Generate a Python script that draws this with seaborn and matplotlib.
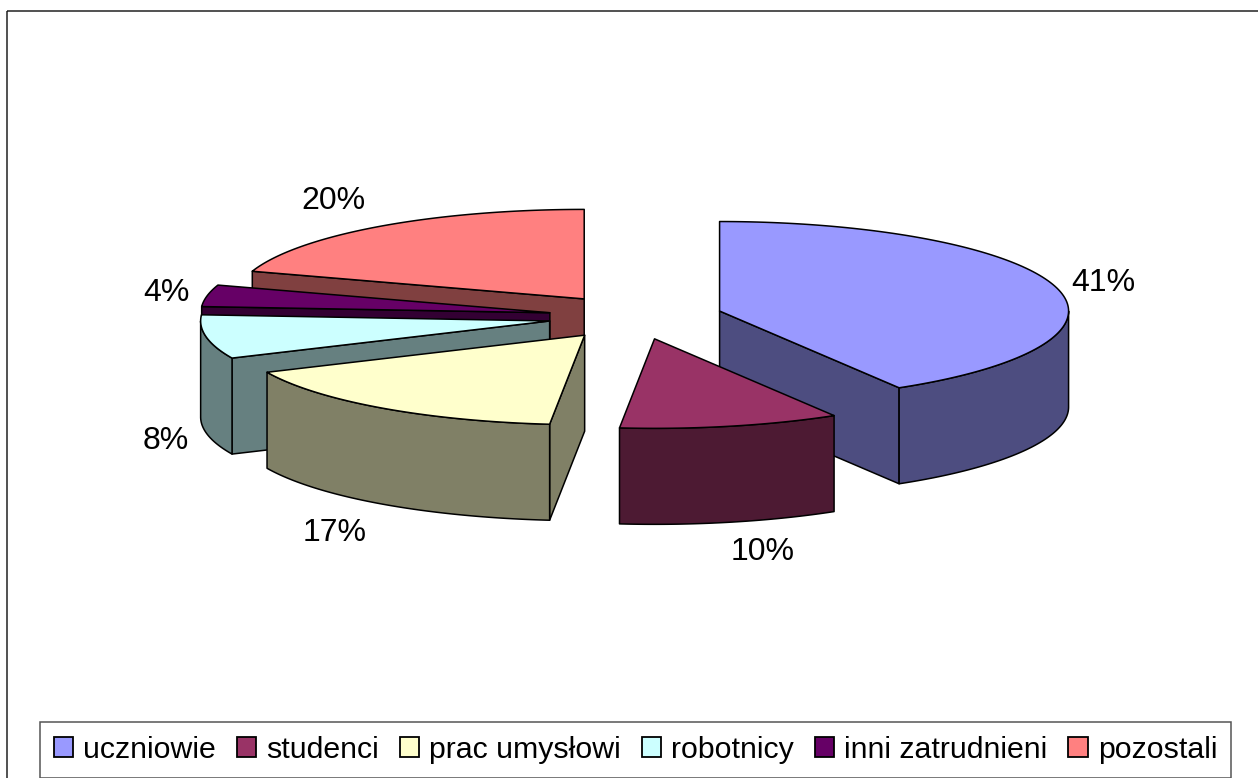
import numpy as np
import matplotlib
matplotlib.use("Agg")
import matplotlib.pyplot as plt
from matplotlib.patches import Patch, Polygon, Rectangle
import seaborn as sns

categories = ["uczniowie", "studenci", "prac umysłowi", "robotnicy", "inni zatrudnieni", "pozostali"]
shares = [41.4, 10.2, 16.6, 7.9, 3.9, 20.0]
colors = ["#9999FF", "#993366", "#FFFFCC", "#CCFFFF", "#660066", "#FF8080"]

# layout in pixels
cx, cy = 635.5, 317
rx, ry = 349, 89.5
depth = 96
explode = 0.25
label_offsets = [(47, -4), (32, 126), (-47, 125), (-40, 104), (-41, -3), (-46, -25)]
draw_order = [5, 4, 3, 0, 2, 1]

sns.set_theme(style="white")
plt.rcParams["font.family"] = ["Liberation Sans", "DejaVu Sans"]
palette = sns.color_palette(colors)

fig = plt.figure(figsize=(12.58, 7.78), dpi=100)
ax = fig.add_axes([0, 0, 1, 1])
ax.set_xlim(0, 1258)
ax.set_ylim(778, 0)
ax.axis("off")
ax.add_patch(Rectangle((7, 11), 1400, 1000, fill=False, ec="#222222", lw=1.1))

edges = np.cumsum([0] + shares) / sum(shares) * 360


def rim(apex, deg):
    a = np.radians(deg)
    return np.column_stack([apex[0] + rx * np.sin(a), apex[1] - ry * np.cos(a)])


def side(pts, color):
    low = pts + [0, depth]
    ax.add_patch(Polygon(np.vstack([pts, low[::-1]]), fc=color, ec="black", lw=1.1, joinstyle="round"))


apexes = []
for i in range(len(shares)):
    mid = np.radians((edges[i] + edges[i + 1]) / 2)
    apexes.append((cx + explode * rx * np.sin(mid), cy - explode * ry * np.cos(mid)))

for i in draw_order:
    a0, a1 = edges[i], edges[i + 1]
    apex = np.array(apexes[i])
    dark = tuple(c / 2 for c in palette[i])
    # cut faces turned to the viewer
    if np.sin(np.radians(a0)) < -1e-6:
        side(np.vstack([apex, rim(apex, np.array([a0]))]), dark)
    if np.sin(np.radians(a1)) > 1e-6:
        side(np.vstack([apex, rim(apex, np.array([a1]))]), dark)
    # front wall
    lo, hi = max(a0, 90), min(a1, 270)
    if lo < hi:
        side(rim(apex, np.linspace(lo, hi, 80)), dark)
    # top
    top = np.vstack([apex, rim(apex, np.linspace(a0, a1, 120))])
    ax.add_patch(Polygon(top, fc=palette[i], ec="black", lw=1.1, joinstyle="round"))

for i, share in enumerate(shares):
    mid = (edges[i] + edges[i + 1]) / 2
    p = rim(np.array(apexes[i]), np.array([mid]))[0]
    ax.text(p[0] + label_offsets[i][0], p[1] + label_offsets[i][1], f"{round(share)}%",
            ha="center", va="center", fontsize=23, color="black")

handles = [Patch(fc=palette[i], ec="black", lw=1.3, label=c) for i, c in enumerate(categories)]
leg = ax.legend(handles=handles, ncol=6, loc="center", bbox_to_anchor=(635.5, 750),
                bbox_transform=ax.transData, fontsize=21.8, frameon=True, fancybox=False,
                framealpha=1, edgecolor="#555555", handlelength=0.65, handleheight=0.65,
                handletextpad=0.33, columnspacing=0.68, borderpad=0.46, borderaxespad=0,
                labelcolor="black")
leg.get_frame().set_linewidth(1.1)

fig.savefig("out.png", dpi=100, facecolor="white")
